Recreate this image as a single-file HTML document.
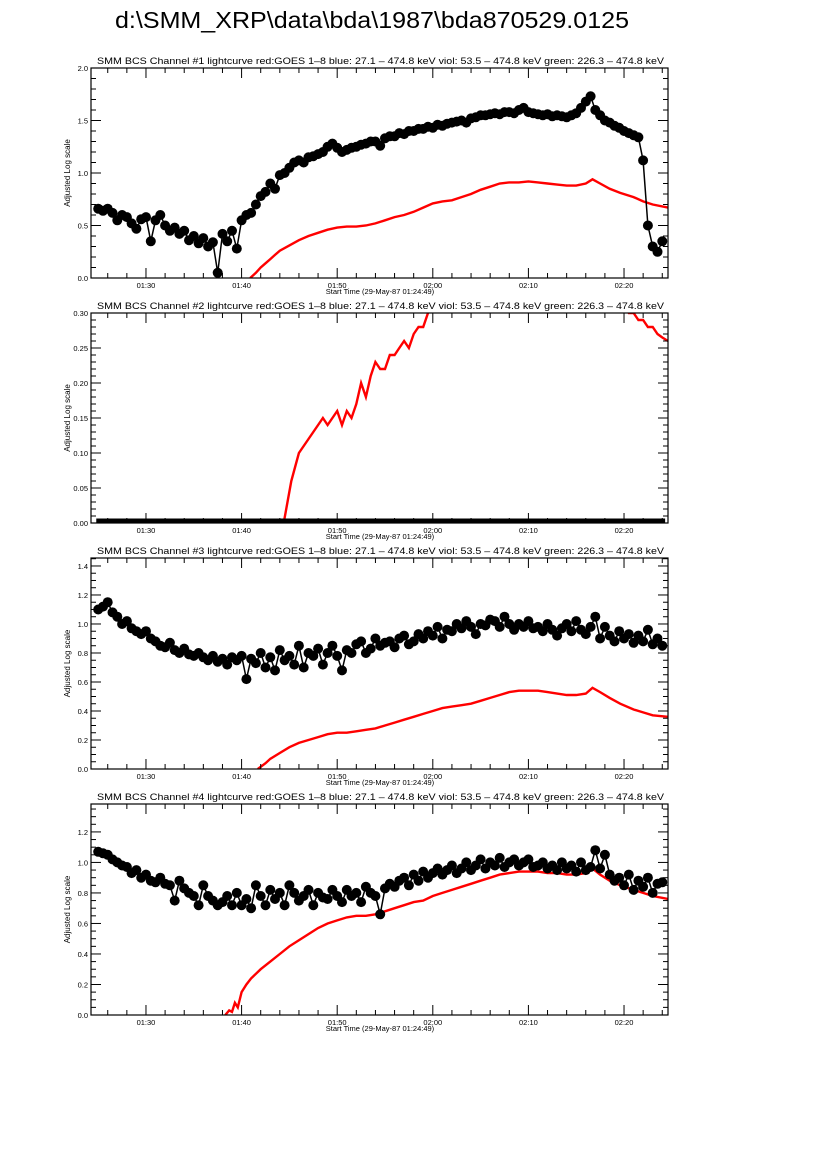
<!DOCTYPE html>
<html><head><meta charset="utf-8"><style>
body{margin:0;background:#fff;width:826px;height:1169px;overflow:hidden}
svg{display:block}
text{font-family:"Liberation Sans",sans-serif;fill:#000}
</style></head><body>
<svg id="chart" width="826" height="1169" xmlns="http://www.w3.org/2000/svg">
<text x="372" y="28" font-size="23" text-anchor="middle" textLength="514" lengthAdjust="spacingAndGlyphs">d:\SMM_XRP\data\bda\1987\bda870529.0125</text>
</svg>
<script>
// time in minutes relative to 01:30
const tickLabels = ["01:30","01:40","01:50","02:00","02:10","02:20"];
const tickTimes = [0,10,20,30,40,50];
const blackT = [-5,-4.5,-4,-3.5,-3,-2.5,-2,-1.5,-1,-0.5,0,0.5,1,1.5,2,2.5,3,3.5,4,4.5,5,5.5,6,6.5,7,7.5,8,8.5,9,9.5,10,10.5,11,11.5,12,12.5,13,13.5,14,14.5,15,15.5,16,16.5,17,17.5,18,18.5,19,19.5,20,20.5,21,21.5,22,22.5,23,23.5,24,24.5,25,25.5,26,26.5,27,27.5,28,28.5,29,29.5,30,30.5,31,31.5,32,32.5,33,33.5,34,34.5,35,35.5,36,36.5,37,37.5,38,38.5,39,39.5,40,40.5,41,41.5,42,42.5,43,43.5,44,44.5,45,45.5,46,46.5,47,47.5,48,48.5,49,49.5,50,50.5,51,51.5,52,52.5,53,53.5,54];
const black1 = [0.66,0.64,0.66,0.62,0.55,0.6,0.58,0.52,0.47,0.56,0.58,0.35,0.55,0.6,0.5,0.45,0.48,0.42,0.45,0.36,0.4,0.33,0.38,0.3,0.34,0.05,0.42,0.35,0.45,0.28,0.55,0.6,0.62,0.7,0.78,0.82,0.9,0.85,0.98,1.0,1.05,1.1,1.12,1.1,1.15,1.16,1.18,1.2,1.25,1.28,1.24,1.2,1.22,1.24,1.25,1.27,1.28,1.3,1.3,1.26,1.33,1.35,1.35,1.38,1.37,1.4,1.4,1.42,1.42,1.44,1.43,1.46,1.45,1.47,1.48,1.49,1.5,1.48,1.52,1.53,1.55,1.55,1.56,1.57,1.56,1.58,1.58,1.57,1.6,1.62,1.58,1.57,1.56,1.55,1.56,1.54,1.55,1.54,1.53,1.55,1.57,1.62,1.68,1.73,1.6,1.55,1.5,1.48,1.45,1.43,1.4,1.38,1.36,1.34,1.12,0.5,0.3,0.25,0.35];
const black3 = [1.1,1.12,1.15,1.08,1.05,1.0,1.02,0.97,0.95,0.93,0.95,0.9,0.88,0.85,0.84,0.87,0.82,0.8,0.83,0.79,0.78,0.8,0.77,0.75,0.78,0.74,0.76,0.72,0.77,0.75,0.78,0.62,0.76,0.73,0.8,0.7,0.77,0.68,0.82,0.75,0.78,0.72,0.85,0.7,0.8,0.78,0.83,0.72,0.8,0.85,0.78,0.68,0.82,0.8,0.86,0.88,0.8,0.83,0.9,0.85,0.87,0.88,0.84,0.9,0.92,0.86,0.88,0.93,0.9,0.95,0.92,0.98,0.9,0.96,0.95,1.0,0.97,1.02,0.98,0.93,1.0,0.99,1.03,1.02,0.98,1.05,1.0,0.96,1.0,0.98,1.02,0.97,0.98,0.95,1.0,0.96,0.92,0.97,1.0,0.95,1.02,0.96,0.93,0.98,1.05,0.9,0.98,0.92,0.88,0.95,0.9,0.93,0.87,0.92,0.88,0.96,0.86,0.9,0.85];
const black4 = [1.07,1.06,1.05,1.02,1.0,0.98,0.97,0.93,0.95,0.9,0.92,0.88,0.87,0.9,0.86,0.85,0.75,0.88,0.83,0.8,0.78,0.72,0.85,0.78,0.75,0.72,0.74,0.78,0.72,0.8,0.72,0.76,0.7,0.85,0.78,0.72,0.82,0.76,0.8,0.72,0.85,0.8,0.75,0.78,0.82,0.72,0.8,0.77,0.76,0.82,0.78,0.74,0.82,0.78,0.8,0.74,0.84,0.8,0.78,0.66,0.83,0.86,0.84,0.88,0.9,0.85,0.92,0.88,0.94,0.9,0.93,0.96,0.92,0.95,0.98,0.93,0.96,1.0,0.95,0.98,1.02,0.96,1.0,0.98,1.03,0.97,1.0,1.02,0.98,1.0,1.02,0.97,0.98,1.0,0.96,0.98,0.95,1.0,0.96,0.98,0.94,1.0,0.95,0.97,1.08,0.96,1.05,0.92,0.88,0.9,0.85,0.92,0.82,0.88,0.84,0.9,0.8,0.86,0.87];
const redT1 = [10.9,11.5,12,12.5,13,13.5,14,15,16,17,18,19,20,21,22,23,24,25,26,27,28,29,30,31,32,33,34,35,36,37,38,39,40,41,42,43,44,45,46,46.7,47.5,48.5,49.6,51,52,53,54.6];
const red1 = [0,0.05,0.1,0.14,0.18,0.22,0.26,0.31,0.36,0.4,0.43,0.46,0.48,0.49,0.49,0.5,0.52,0.55,0.58,0.6,0.63,0.67,0.71,0.73,0.74,0.77,0.8,0.84,0.87,0.9,0.91,0.91,0.92,0.91,0.9,0.89,0.88,0.88,0.9,0.94,0.9,0.85,0.81,0.77,0.73,0.7,0.67];
const redT2 = [14.4,14.8,15.2,15.6,16,16.5,17,17.5,18,18.5,19,19.5,20,20.5,21,21.5,22,22.5,23,23.5,24,24.5,25,25.5,26,26.5,27,27.5,28,28.5,29,29.5,30,50,50.5,51,51.5,52,52.5,53,53.5,54,54.6];
const red2 = [0,0.03,0.06,0.08,0.1,0.11,0.12,0.13,0.14,0.15,0.14,0.15,0.16,0.14,0.16,0.15,0.17,0.2,0.18,0.21,0.23,0.22,0.22,0.24,0.24,0.25,0.26,0.25,0.27,0.28,0.28,0.3,0.31,0.31,0.3,0.3,0.29,0.29,0.28,0.28,0.27,0.265,0.26];
const redT3 = [11.7,12.5,13,14,15,16,17,18,19,20,21,22,23,24,25,26,27,28,29,30,31,32,33,34,35,36,37,38,39,40,41,42,43,44,45,46,46.7,47.5,48.5,49.6,51,52,53,54.6];
const red3 = [0,0.04,0.07,0.11,0.15,0.18,0.2,0.22,0.24,0.25,0.25,0.26,0.27,0.28,0.3,0.32,0.34,0.36,0.38,0.4,0.42,0.43,0.44,0.45,0.47,0.49,0.51,0.53,0.54,0.54,0.54,0.53,0.52,0.51,0.51,0.52,0.56,0.53,0.49,0.45,0.41,0.39,0.37,0.36];
const redT4 = [8.3,8.7,9,9.3,9.6,10,10.5,11,12,13,14,15,16,17,18,19,20,21,22,23,24,25,26,27,28,29,30,31,32,33,34,35,36,37,38,39,40,41,42,43,44,45,46,46.7,47.5,48.5,49.6,51,52,53,54.6];
const red4 = [0,0.03,0.02,0.08,0.05,0.15,0.2,0.24,0.3,0.35,0.4,0.45,0.49,0.53,0.57,0.6,0.62,0.64,0.65,0.65,0.66,0.68,0.7,0.72,0.74,0.75,0.78,0.8,0.82,0.84,0.86,0.88,0.9,0.92,0.93,0.94,0.94,0.94,0.93,0.93,0.92,0.92,0.93,0.96,0.92,0.88,0.85,0.82,0.8,0.78,0.76];

const NS="http://www.w3.org/2000/svg";
const svg=document.getElementById('chart');
function el(tag,attrs,parent){const e=document.createElementNS(NS,tag);for(const k in attrs)e.setAttribute(k,attrs[k]);(parent||svg).appendChild(e);return e;}
const X0=91,X1=668,T0=-5.75,T1=54.6;
function xs(t){return X0+(t-T0)/(T1-T0)*(X1-X0);}
const titleSuffix=" lightcurve  red:GOES 1\u20138  blue: 27.1 \u2013 474.8 keV  viol: 53.5 \u2013 474.8 keV  green: 226.3 \u2013 474.8 keV";
const panels=[
 {top:68,bot:278,ymax:2.0,major:0.5,minor:0.1,dec:1,bt:blackT,b:black1,rt:redT1,r:red1,ch:1},
 {top:313,bot:523,ymax:0.30,major:0.05,minor:0.01,dec:2,bt:blackT,b:null,rt:redT2,r:red2,ch:2},
 {top:558,bot:769,ymax:1.455,major:0.2,minor:0.05,dec:1,bt:blackT,b:black3,rt:redT3,r:red3,ch:3},
 {top:804,bot:1015,ymax:1.383,major:0.2,minor:0.05,dec:1,bt:blackT,b:black4,rt:redT4,r:red4,ch:4}
];
panels.forEach(p=>{
 const g=el('g',{});
 
 
 const ys=v=>p.bot-(v/p.ymax)*(p.bot-p.top);
 const clip='clip'+p.ch;
 const cp=el('clipPath',{id:clip},g);el('rect',{x:X0,y:p.top,width:X1-X0,height:p.bot-p.top},cp);
 const t=el('text',{x:380.5,y:p.top-4,'font-size':'9.5','text-anchor':'middle',textLength:'567',lengthAdjust:'spacingAndGlyphs'},g);
 t.textContent='SMM BCS Channel #'+p.ch+titleSuffix;
 
 
 const yl=el('text',{x:0,y:0,'font-size':'8','text-anchor':'middle',transform:`translate(70,${(p.top+p.bot)/2}) rotate(-90)`},g);
 yl.textContent='Adjusted Log scale';
 
 
 const xl=el('text',{x:380,y:p.bot+16,'font-size':'7.5','text-anchor':'middle'},g);
 xl.textContent='Start Time (29-May-87 01:24:49)';
 
 
 let pts=p.rt.map((tt,i)=>xs(tt).toFixed(1)+','+ys(p.r[i]).toFixed(1)).join(' ');
 const rl=el('polyline',{points:pts,fill:'none',stroke:'#f00','stroke-width':2.4,'clip-path':`url(#${clip})`},g);
 
 
 if(p.b){
  pts=p.bt.map((tt,i)=>xs(tt).toFixed(1)+','+ys(p.b[i]).toFixed(1)).join(' ');
  const bl=el('polyline',{points:pts,fill:'none',stroke:'#000','stroke-width':1.5,'clip-path':`url(#${clip})`},g);
  
  
  p.bt.forEach((tt,i)=>{
   const c=el('circle',{cx:xs(tt).toFixed(1),cy:ys(p.b[i]).toFixed(1),r:5,fill:'#000'},g);
   
   
  });
 } else {
  const zl=el('line',{x1:xs(-5.2),x2:xs(54.3),y1:p.bot-2,y2:p.bot-2,stroke:'#000','stroke-width':5},g);
  
  
 }
 const fr=el('rect',{x:X0,y:p.top,width:X1-X0,height:p.bot-p.top,fill:'none',stroke:'#000','stroke-width':1.2},g);
 
 
 const nmin=Math.floor(p.ymax/p.minor+1e-6);
 for(let k=0;k<=nmin;k++){
  const v=k*p.minor, y=ys(v);
  const isMaj=Math.abs(v/p.major-Math.round(v/p.major))<1e-6;
  const L=isMaj?10:5;
  el('line',{x1:X0,x2:X0+L,y1:y,y2:y,stroke:'#000','stroke-width':1},g);
  el('line',{x1:X1,x2:X1-L,y1:y,y2:y,stroke:'#000','stroke-width':1},g);
  if(isMaj){const lt=el('text',{x:X0-3,y:y+3,'font-size':'7.5','text-anchor':'end'},g);lt.textContent=v.toFixed(p.dec);
   
   }
 }
 for(let m=-4;m<=54;m+=2){
  const x=xs(m),isMaj=m%10===0,L=isMaj?10:5;
  el('line',{x1:x,x2:x,y1:p.bot,y2:p.bot-L,stroke:'#000','stroke-width':1},g);
  el('line',{x1:x,x2:x,y1:p.top,y2:p.top+L,stroke:'#000','stroke-width':1},g);
 }
 tickTimes.forEach((m,i)=>{
  const lt=el('text',{x:xs(m),y:p.bot+10,'font-size':'7.5','text-anchor':'middle'},g);
  lt.textContent=tickLabels[i];
  
  
 });
});
</script>
</body></html>
